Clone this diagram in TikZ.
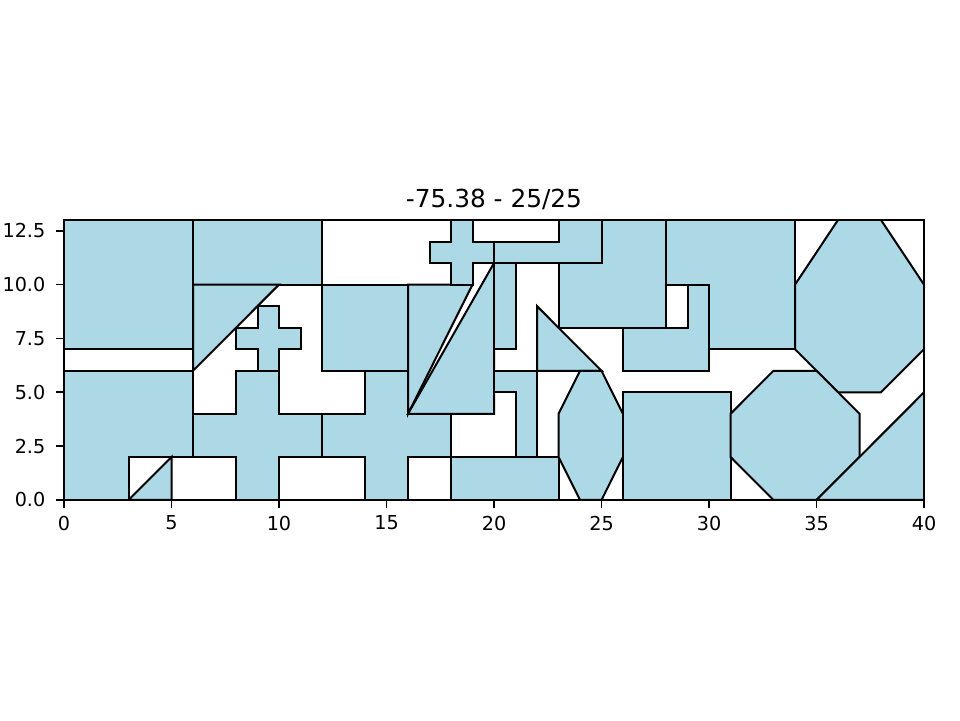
\documentclass[tikz,border=0pt]{standalone}
\usepackage{fontspec}
\setmainfont{DejaVu Sans}
\definecolor{lb}{HTML}{ADD8E6}
\begin{document}
\begin{tikzpicture}[x=1pt,y=1pt,
  poly/.style={fill=lb,draw=black,line width=2pt,line join=miter},
  ticklab/.style={inner sep=0pt,font=\fontsize{19.2}{19.2}\selectfont},
  tickmark/.style={line width=1.7pt},
  ]
\useasboundingbox (0,0) rectangle (960,720);
\begin{scope}[shift={(64,220)},x=21.5pt,y=21.5385pt]
\clip (0,0) rectangle (40,13);
\draw[poly] (0,7)--(6,7)--(6,13)--(0,13)--cycle;
\draw[poly] (6,10)--(12,10)--(12,13)--(6,13)--cycle;
\draw[poly] (0,0)--(3,0)--(3,2)--(6,2)--(6,6)--(0,6)--cycle;
\draw[poly] (3,0)--(5,0)--(5,2)--cycle;
\draw[poly] (8,0)--(10,0)--(10,2)--(12,2)--(12,4)--(10,4)--(10,6)--(8,6)--(8,4)--(6,4)--(6,2)--(8,2)--cycle;
\draw[poly] (9,6)--(10,6)--(10,7)--(11,7)--(11,8)--(10,8)--(10,9)--(9,9)--(9,8)--(8,8)--(8,7)--(9,7)--cycle;
\draw[poly] (6,6)--(10,10)--(6,10)--cycle;
\draw[poly] (12,6)--(16,6)--(16,10)--(12,10)--cycle;
\draw[poly] (14,0)--(16,0)--(16,2)--(18,2)--(18,4)--(16,4)--(16,6)--(14,6)--(14,4)--(12,4)--(12,2)--(14,2)--cycle;
\draw[poly] (16,4)--(19,10)--(16,10)--cycle;
\draw[poly] (16,4)--(20,4)--(20,11)--cycle;
\draw[poly] (18,10)--(19,10)--(19,11)--(20,11)--(20,12)--(19,12)--(19,13)--(18,13)--(18,12)--(17,12)--(17,11)--(18,11)--cycle;
\draw[poly] (23,8)--(28,8)--(28,13)--(23,13)--cycle;
\draw[poly] (20,11)--(25,11)--(25,13)--(23,13)--(23,12)--(20,12)--cycle;
\draw[poly] (20,7)--(21,7)--(21,11)--(20,11)--cycle;
\draw[poly] (20,5)--(21,5)--(21,2)--(22,2)--(22,6)--(20,6)--cycle;
\draw[poly] (18,0)--(23,0)--(23,2)--(18,2)--cycle;
\draw[poly] (22,6)--(25,6)--(22,9)--cycle;
\draw[poly] (24,0)--(25,0)--(26,2)--(26,4)--(25,6)--(24,6)--(23,4)--(23,2)--cycle;
\draw[poly] (26,6)--(30,6)--(30,10)--(29,10)--(29,8)--(26,8)--cycle;
\draw[poly] (28,10)--(28,13)--(34,13)--(34,7)--(30,7)--(30,10)--cycle;
\draw[poly] (34,7)--(34,10)--(36,13)--(38,13)--(40,10)--(40,7)--(38,5)--(36,5)--cycle;
\draw[poly] (26,0)--(31,0)--(31,5)--(26,5)--cycle;
\draw[poly] (33,0)--(35,0)--(37,2)--(37,4)--(35,6)--(33,6)--(31,4)--(31,2)--cycle;
\draw[poly] (35,0)--(40,0)--(40,5)--cycle;
\end{scope}
\begin{scope}[shift={(64,220)},x=21.5pt,y=21.5385pt]
\draw[line width=1.7pt] (0,0) rectangle (40,13);
\foreach \v in {0,5,...,40} {
  \draw[tickmark] (\v,0) -- ++(0pt,-8pt);
  \node[ticklab,anchor=north,yshift=-15.7pt] (xl\v) at (\v,0) {\v};
}
\foreach \v/\t [count=\i] in {0/0.0,2.5/2.5,5/5.0,7.5/7.5,10/10.0,12.5/12.5} {
  \draw[tickmark] (0,\v) -- ++(-8pt,0pt);
  \node[ticklab,anchor=east,xshift=-18.5pt] (yl\i) at (0,\v) {\t};
}
\end{scope}
\node[inner sep=0pt,font=\fontsize{24.8}{24.8}\selectfont,anchor=base] (title) at (494,512.5) {-75.38 - 25/25};
\end{tikzpicture}
\end{document}
